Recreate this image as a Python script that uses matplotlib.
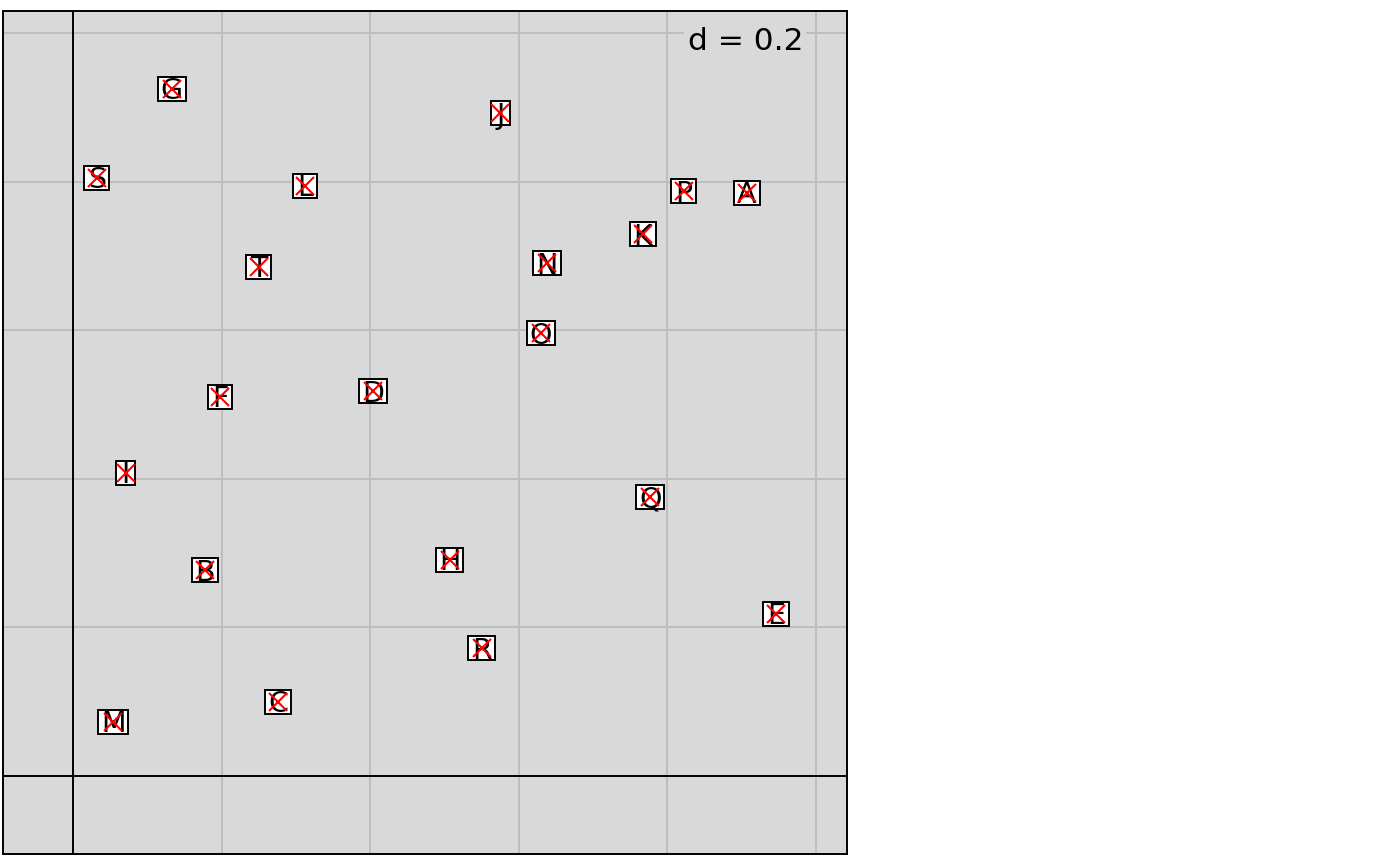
import matplotlib
matplotlib.use("Agg")
import matplotlib.pyplot as plt
from matplotlib.patches import Rectangle

# row labels and coordinates
labels = ["A", "B", "C", "D", "E", "F", "G", "H", "I", "J",
          "K", "L", "M", "N", "O", "P", "Q", "R", "S", "T"]
xs = [0.907, 0.178, 0.276, 0.404, 0.946, 0.198, 0.133, 0.507, 0.071, 0.575,
      0.767, 0.312, 0.054, 0.638, 0.630, 0.822, 0.777, 0.550, 0.032, 0.250]
ys = [0.785, 0.277, 0.100, 0.518, 0.218, 0.510, 0.925, 0.291, 0.408, 0.892,
      0.729, 0.794, 0.073, 0.690, 0.596, 0.787, 0.376, 0.172, 0.805, 0.685]
grid_step = 0.2
xgrid = [0.0, 0.2, 0.4, 0.6, 0.8, 1.0]
ygrid = [0.0, 0.2, 0.4, 0.6, 0.8, 1.0]

BG = "#d9d9d9"
GRID = "#bebebe"

fig = plt.figure(figsize=(14, 8.66), dpi=100)
ax = fig.add_axes([3 / 1400, 12 / 866, 844 / 1400, 843 / 866])
ax.set_facecolor(BG)
ax.set_xlim(-0.0942, 1.0417)
ax.set_ylim(-0.105, 1.0296)
ax.set_xticks([])
ax.set_yticks([])
for s in ax.spines.values():
    s.set_linewidth(1.4)
    s.set_color("black")

for g in xgrid[1:]:
    ax.axvline(g, color=GRID, lw=1.4, zorder=1)
for g in ygrid[1:]:
    ax.axhline(g, color=GRID, lw=1.4, zorder=1)
ax.axvline(0, color="black", lw=1.4, zorder=1.5)
ax.axhline(0, color="black", lw=1.4, zorder=1.5)

ax.text(0.9825, 0.988, f"d = {grid_step:g}", ha="right", va="center", fontsize=22.5,
        zorder=1.2, bbox=dict(boxstyle="square,pad=0.1", fc=BG, ec="none"))

fs = 20.5
texts = []
for lab, x, y in zip(labels, xs, ys):
    t = ax.annotate(lab, (x, y), xytext=(0, -fs * 0.73 / 2), textcoords="offset points",
                    ha="center", va="baseline", fontsize=fs, zorder=4)
    texts.append(t)

# the label boxes are narrower than the glyphs, as in the original
fig.canvas.draw()
r = fig.canvas.get_renderer()
px_per_x = ax.transData.transform((1, 0))[0] - ax.transData.transform((0, 0))[0]
px_per_y = ax.transData.transform((0, 1))[1] - ax.transData.transform((0, 0))[1]
box_h = 24
for t, x, y in zip(texts, xs, ys):
    w = 13.5 + 0.75 * 18 / fs * t.get_window_extent(r).width
    ax.add_patch(Rectangle((x - w / 2 / px_per_x, y - box_h / 2 / px_per_y),
                           w / px_per_x, box_h / px_per_y,
                           fc="white", ec="black", lw=1.4, zorder=3))

ax.plot(xs, ys, ls="none", marker="x", ms=13, mew=1.5, color="red", zorder=5)

fig.savefig("out.png", dpi=100)
